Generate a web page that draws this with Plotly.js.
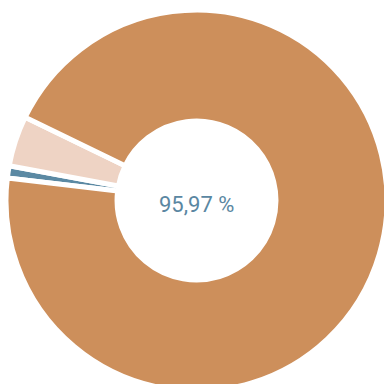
<!DOCTYPE html>
<html>
<head>
<meta charset="utf-8">
<script src="https://cdn.plot.ly/plotly-3.0.1.min.js"></script>
<style>
html,body{margin:0;padding:0;overflow:hidden;background:#fff;width:384px;height:384px;}
#chart{width:400px;height:400px;}
</style>
</head>
<body>
<div id="chart"></div>
<script>
// Data (slice order clockwise starting at the blue slice)
const labels = ["Blue", "Pink", "Tan"];
const values = [1.03, 4.28, 94.69];
const colors = ["#5b89a3", "#eed3c4", "#cd8f5b"];
const centerLabel = "95,97 %";

const W = 400, H = 400;
const trace = {
  type: "pie",
  labels: labels,
  values: values,
  sort: false,
  direction: "clockwise",
  rotation: -83.2,
  hole: 0.417,
  textinfo: "none",
  hoverinfo: "none",
  marker: {colors: colors, line: {color: "#ffffff", width: 5}},
  domain: {x: [6 / W, 387 / W], y: [(H - 391) / H, (H - 10) / H]},
  showlegend: false
};

const layout = {
  width: W,
  height: H,
  margin: {l: 0, r: 0, t: 0, b: 0},
  paper_bgcolor: "#ffffff",
  plot_bgcolor: "#ffffff",
  showlegend: false,
  annotations: [{
    text: centerLabel,
    xref: "paper", yref: "paper",
    x: 196 / W, y: 1 - 204 / H,
    xanchor: "center", yanchor: "middle",
    showarrow: false,
    font: {family: "Roboto, Lato, sans-serif", size: 22, color: "#5a87a2"}
  }]
};

Plotly.newPlot("chart", [trace], layout, {staticPlot: true, displayModeBar: false});
</script>
</body>
</html>
